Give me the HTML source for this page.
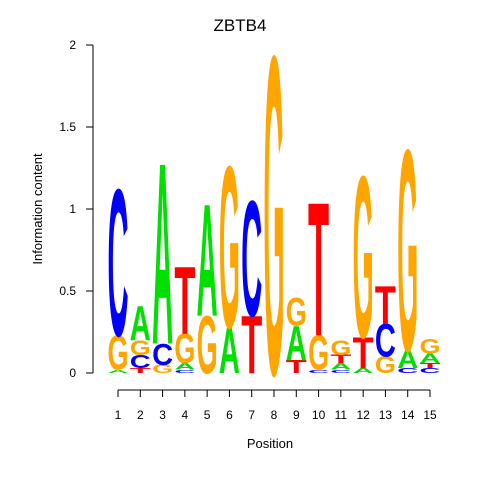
<!DOCTYPE html>
<html><head><meta charset="utf-8"><style>body{margin:0;background:#fff}svg{display:block}text{font-family:"Liberation Sans",sans-serif}</style></head>
<body>
<svg id="c" width="480" height="480">
<text x="240" y="31" font-size="17" text-anchor="middle">ZBTB4</text>
<text x="270" y="448" font-size="13" text-anchor="middle">Position</text>
<text transform="translate(42,209) rotate(-90)" font-size="13" text-anchor="middle">Information content</text>
<g id="axes"></g><g id="logo"></g>
</svg>
<script>
const positions=[1,2,3,4,5,6,7,8,9,10,11,12,13,14,15];
const letters=[["A","G","C"],["T","C","G","A"],["G","C","A"],["C","A","G","T"],["G","A"],["A","G"],["T","C"],["G"],["T","A","G"],["C","G","T"],["C","A","T","G"],["A","T","G"],["G","C","T"],["C","A","G"],["C","T","A","G"]];
const heights=[[0.02,0.21,0.89],[0.03,0.08,0.09,0.21],[0.05,0.13,1.10],[0.02,0.04,0.18,0.41],[0.35,0.68],[0.28,0.98],[0.35,0.70],[1.93],[0.08,0.21,0.17],[0.02,0.21,0.81],[0.02,0.04,0.05,0.09],[0.03,0.19,0.98],[0.10,0.20,0.23],[0.03,0.11,1.22],[0.03,0.03,0.06,0.09]];
const yTicks=[0,0.5,1,1.5,2];
const colors={A:"#00e000",C:"#0000ff",G:"#ffa500",T:"#ff0000"};
const NS="http://www.w3.org/2000/svg";
const y=v=>373-v*164, x=p=>118+(p-1)*(312/14);
const ax=document.getElementById('axes'), lg=document.getElementById('logo');
function mk(tag,at,par){const e=document.createElementNS(NS,tag);for(const k in at)e.setAttribute(k,at[k]);par.appendChild(e);return e;}
let l=mk('line',{x1:93,x2:93,y1:y(0),y2:y(2),stroke:'#000'},ax);


yTicks.forEach(t=>{
 const tk=mk('line',{x1:86,x2:93,y1:y(t),y2:y(t),stroke:'#000'},ax);
 
 
 const tx=mk('text',{x:76,y:y(t)+4,'font-size':12,'text-anchor':'end'},ax);
 tx.textContent=t;
 
 
});
l=mk('line',{x1:x(1),x2:x(15),y1:390,y2:390,stroke:'#000'},ax);


positions.forEach((p,i)=>{
 const tk=mk('line',{x1:x(p),x2:x(p),y1:390,y2:397,stroke:'#000'},ax);
 
 
 const tx=mk('text',{x:x(p),y:419,'font-size':12,'text-anchor':'middle'},ax);
 tx.textContent=p;
 
 
 let base=0;
 letters[i].forEach((L,j)=>{
  const h=heights[i][j];
  const pxh=h*164;
  const t=mk('text',{transform:`translate(${x(p)-10.5},${y(base)}) scale(1,${pxh/69.5})`,'font-size':100,'font-weight':'bold',fill:colors[L],textLength:21,lengthAdjust:'spacingAndGlyphs'},lg);
  t.textContent=L;
  
  
  base+=h;
 });
});
</script>
</body></html>
